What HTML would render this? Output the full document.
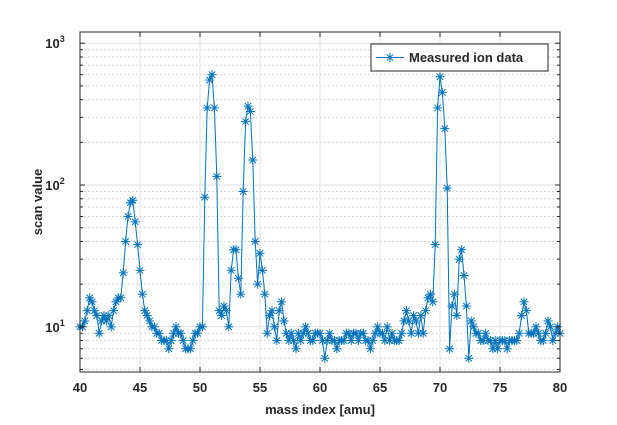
<!DOCTYPE html>
<html><head><meta charset="utf-8"><style>
body{margin:0;background:#fff;}
svg text{font-family:"Liberation Sans",Arial,sans-serif;font-weight:bold;fill:#262626;}
</style></head><body>
<svg id="chart" width="617" height="420" xmlns="http://www.w3.org/2000/svg"></svg>
<script>
const xStart = 40;
const xStep = 0.2;
const scanValues = [10,10,11,13,16,15,13,12,9,11,12,11,12,10,13,15,16,16,24,40,60,75,78,55,38,25,17,13,12,11,10,10,9,9,8,8,8,7,8,9,10,9,9,8,7,7,7,8,9,9,10,10,82,350,550,600,350,115,13,12,14,13,10,25,35,35,22,17,90,280,360,330,150,40,20,33,25,17,9,12,13,10,8,13,15,11,9,8,9,8,7,9,8,9,10,9,8,8,9,9,9,8,6,8,9,8,8,7,8,8,8,9,9,8,9,9,8,9,9,8,8,7,8,9,10,9,9,8,10,8,9,8,8,8,9,11,13,11,9,12,11,9,12,9,13,16,17,15,38,350,580,450,250,95,7,14,17,12,30,35,23,14,6,11,10,9,9,8,8,9,8,8,7,8,7,8,8,8,7,8,8,8,8,9,12,15,13,9,9,9,10,9,8,8,9,11,10,8,9,10,9];
const xTicks = [40,45,50,55,60,65,70,75,80];
const yDecades = [1,2,3];
const xLabel = "mass index [amu]";
const yLabel = "scan value";
const legendLabel = "Measured ion data";

const svg = document.getElementById('chart');
const NS = 'http://www.w3.org/2000/svg';
const L=80, R=560, T=32, B=372;
const yMinLog = Math.log10(4.8), yMaxLog = Math.log10(1200);
function xs(v){return L+(v-40)/(80-40)*(R-L);}
function ys(v){return B-(Math.log10(v)-yMinLog)/(yMaxLog-yMinLog)*(B-T);}
function mk(tag, attrs, parent){const e=document.createElementNS(NS,tag);for(const k in attrs)e.setAttribute(k,attrs[k]);(parent||svg).appendChild(e);return e;}

const grid = mk('g',{});


// minor y grid
for(let d=0; d<=3; d++){
  for(let m=2;m<=9;m++){
    const v=m*Math.pow(10,d);
    if(v<4.8||v>1200) continue;
    mk('line',{x1:L,x2:R,y1:ys(v),y2:ys(v),stroke:'#d8d8d8','stroke-width':1,'stroke-dasharray':'2,2'},grid);
  }
}
yDecades.forEach(d=>{const y=ys(Math.pow(10,d));mk('line',{x1:L,x2:R,y1:y,y2:y,stroke:'#e2e2e2','stroke-width':1},grid);});
xTicks.forEach(t=>{const x=xs(t);mk('line',{x1:x,x2:x,y1:T,y2:B,stroke:'#e2e2e2','stroke-width':1},grid);});

// series
const pts = scanValues.map((v,i)=>[xs(xStart+i*xStep), ys(v)]);
const line = mk('polyline',{points:pts.map(p=>p[0].toFixed(1)+','+p[1].toFixed(1)).join(' '),fill:'none',stroke:'#0072bd','stroke-width':1});


const mg = mk('g',{stroke:'#0072bd','stroke-width':1});


function star(x,y,g){const r=4.5,d=3.2;
  mk('line',{x1:x-r,x2:x+r,y1:y,y2:y},g);mk('line',{x1:x,x2:x,y1:y-r,y2:y+r},g);
  mk('line',{x1:x-d,x2:x+d,y1:y-d,y2:y+d},g);mk('line',{x1:x-d,x2:x+d,y1:y+d,y2:y-d},g);}
pts.forEach(p=>star(p[0],p[1],mg));

// axes box
const ax = mk('rect',{x:L,y:T,width:R-L,height:B-T,fill:'none',stroke:'#262626','stroke-width':1});


// ticks
xTicks.forEach(t=>{const x=xs(t);
  mk('line',{x1:x,x2:x,y1:B,y2:B-5,stroke:'#262626'});
  mk('line',{x1:x,x2:x,y1:T,y2:T+5,stroke:'#262626'});
  const tx=mk('text',{x:x,y:B+20,'text-anchor':'middle','font-size':13});
  tx.textContent=t;
  
  
});
for(let d=0; d<=3; d++){
  for(let m=1;m<=9;m++){
    const v=m*Math.pow(10,d);
    if(v<4.8||v>1200) continue;
    const y=ys(v), len=m===1?5:3;
    mk('line',{x1:L,x2:L+len,y1:y,y2:y,stroke:'#262626'});
    mk('line',{x1:R,x2:R-len,y1:y,y2:y,stroke:'#262626'});
  }
}
yDecades.forEach(d=>{const y=ys(Math.pow(10,d));
  const tx=mk('text',{x:L-25,y:y+5,'text-anchor':'middle','font-size':13});
  tx.textContent='10';
  const sup=mk('tspan',{dy:-6,'font-size':9},tx);sup.textContent=d;
  
  
});
const xt=mk('text',{x:(L+R)/2,y:414,'text-anchor':'middle','font-size':13});
xt.textContent=xLabel;


const yt=mk('text',{x:0,y:0,'text-anchor':'middle','font-size':13,transform:'translate(42,'+((T+B)/2)+') rotate(-90)'});
yt.textContent=yLabel;



// legend
const lg=mk('g',{});


mk('rect',{x:371,y:44,width:177,height:27,fill:'#fff',stroke:'#262626','stroke-width':1},lg);
mk('line',{x1:376,x2:404,y1:57.5,y2:57.5,stroke:'#0072bd'},lg);
const lm=mk('g',{stroke:'#0072bd'},lg);star(390,57.5,lm);
const lt=mk('text',{x:409,y:62,'font-size':13},lg);
lt.textContent=legendLabel;


</script>
</body></html>
